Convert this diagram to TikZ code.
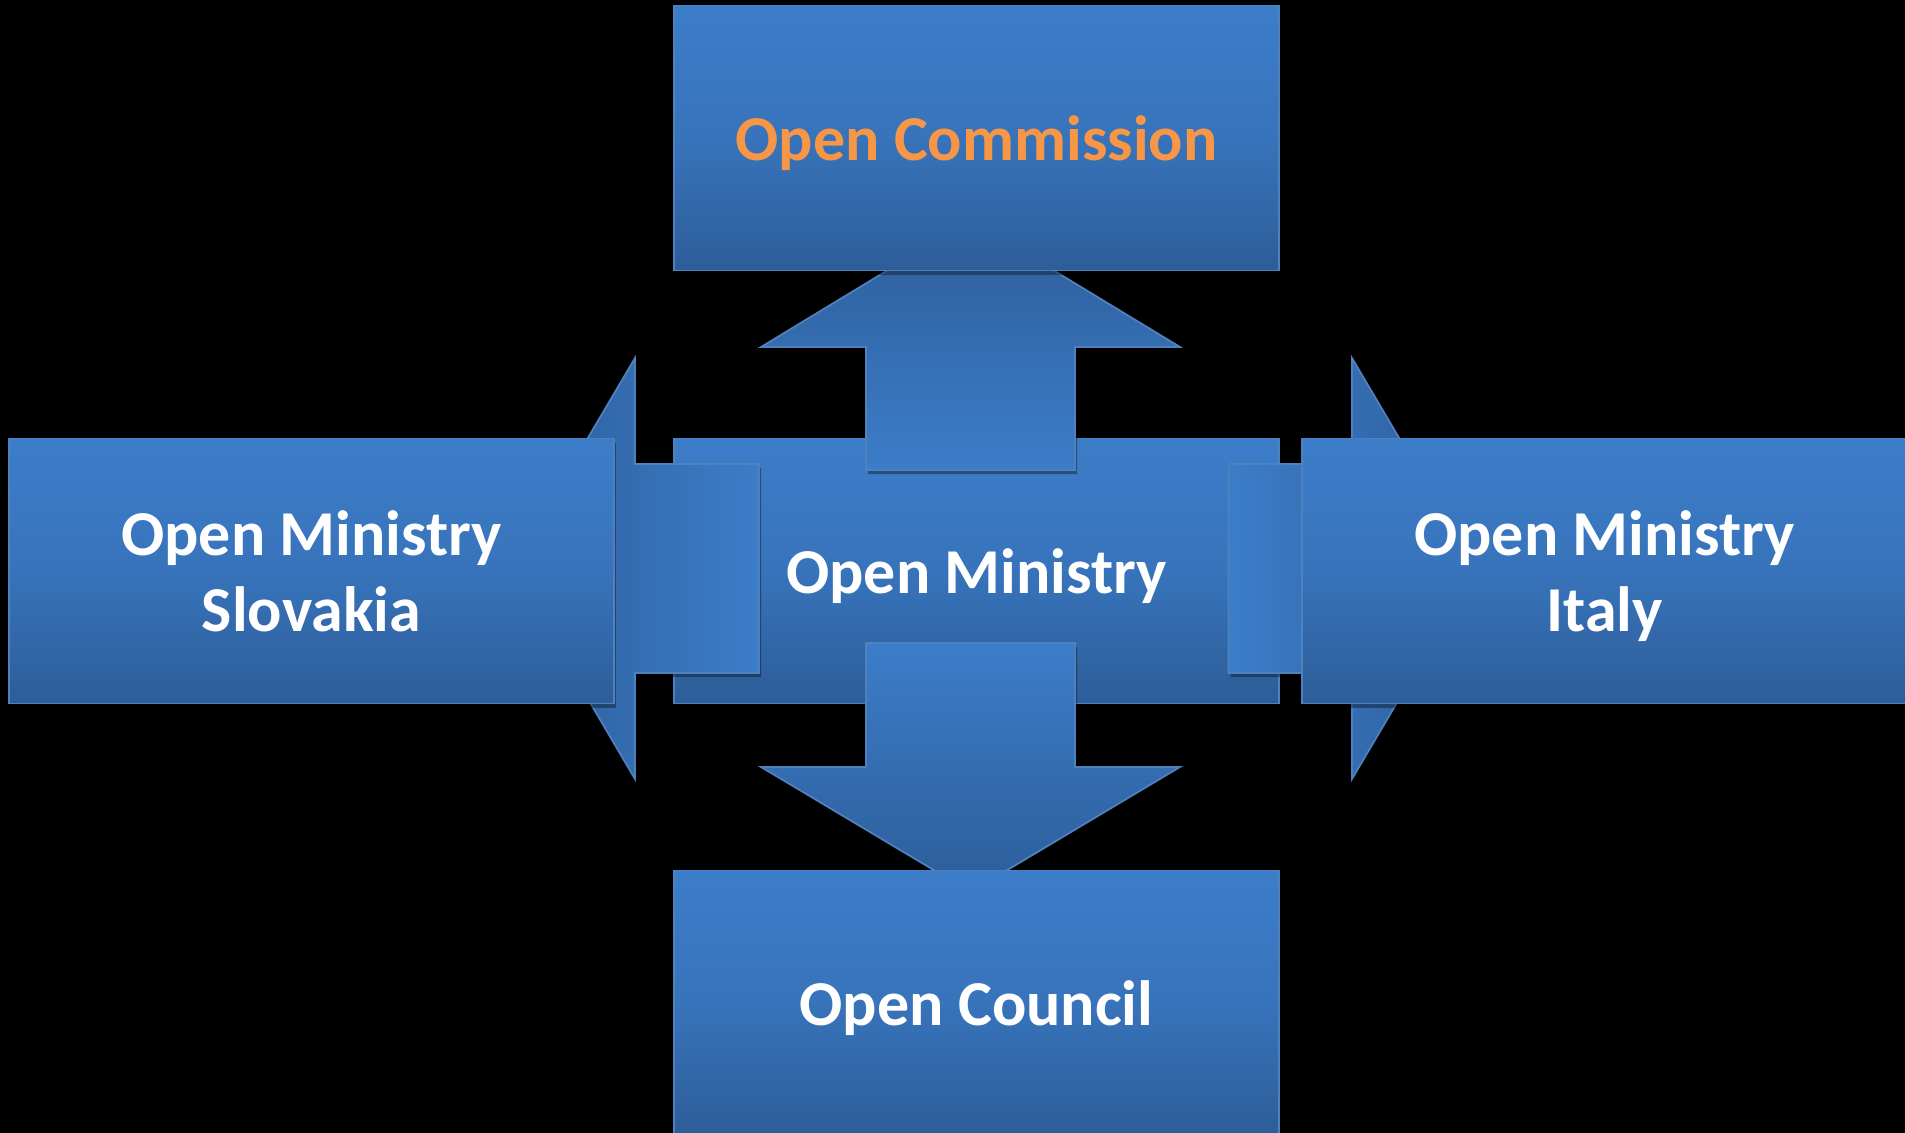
\documentclass[tikz,border=0pt]{standalone}
\usepackage{fontspec}
\setmainfont{Carlito}
\usetikzlibrary{positioning,shadows}

\definecolor{boxlight}{RGB}{60,125,201}
\definecolor{boxdark}{RGB}{45,93,153}
\definecolor{boxline}{RGB}{79,129,189}
\definecolor{commorange}{RGB}{247,150,70}

\tikzset{
  govbox/.style={draw=boxline, line width=0.5pt,
    top color=boxlight, bottom color=boxdark, middle color=boxlight!70!boxdark,
    minimum width=6.05cm, minimum height=2.65cm, inner sep=0pt, outer sep=0pt,
    text depth=0pt, align=center, text=white,
    font=\fontsize{18.2}{21.8}\selectfont\bfseries},
  blockarrow/.style={draw=boxline, line width=0.5pt},
  softshadow/.style={drop shadow={shadow xshift=0.6pt, shadow yshift=-1.2pt, opacity=0.35, fill=black}}
}

\begin{document}
\begin{tikzpicture}[x=0.1mm, y=-0.1mm]
	% canvas
	\useasboundingbox (0,0) rectangle (1905,1133);
	\fill[black] (0,0) rectangle (1905,1133);
	\clip (0,0) rectangle (1905,1133);
	
	% centre
	\node[govbox, softshadow] (ministry) at (976.5,571) {Open Ministry};
	
	% arrows
	\draw[blockarrow, softshadow, top color=boxdark, bottom color=boxlight]
		(866,470) -- (866,347) -- (761,347) -- (970.5,220) -- (1180,347) -- (1075,347) -- (1075,470) -- cycle;
	\draw[blockarrow, softshadow, top color=boxlight, bottom color=boxdark]
		(866,643) -- (866,767) -- (761,767) -- (970.5,892) -- (1180,767) -- (1075,767) -- (1075,643) -- cycle;
	\draw[blockarrow, softshadow, left color=boxdark, right color=boxlight]
		(759,464) -- (635,464) -- (635,358) -- (511,568.5) -- (635,779) -- (635,673) -- (759,673) -- cycle;
	\draw[blockarrow, softshadow, left color=boxlight, right color=boxdark]
		(1228.5,464) -- (1352,464) -- (1352,358) -- (1476,568.5) -- (1352,779) -- (1352,673) -- (1228.5,673) -- cycle;
	
	% outer boxes
	\node[govbox, softshadow, text=commorange, above=1.68cm of ministry] (commission) {Open Commission};
	\node[govbox, softshadow, below=1.67cm of ministry] (council) {Open Council};
	\node[govbox, softshadow, left=0.6cm of ministry] (slovakia) {Open Ministry\\Slovakia};
	\node[govbox, softshadow, right=0.23cm of ministry] (italy) {Open Ministry\\Italy};
\end{tikzpicture}
\end{document}
